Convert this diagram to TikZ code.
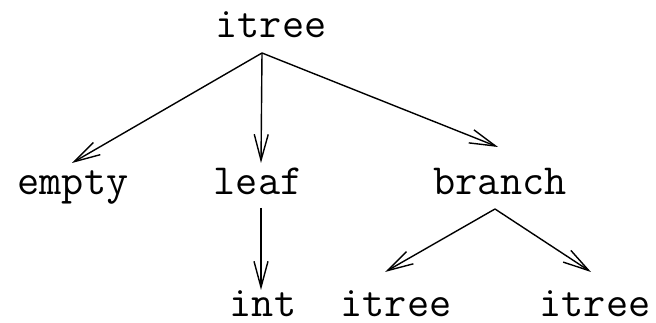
\documentclass[tikz,border=0pt]{standalone}
\usepackage{fontspec}
\usetikzlibrary{arrows.meta}
\begin{document}
\begin{tikzpicture}[x=1pt,y=1pt,
    lbl/.style={font=\ttfamily\fontsize{43}{46}\selectfont,inner sep=0pt,anchor=base},
    >={Straight Barb[length=26pt,width=14pt]},line width=1.4pt]
    \useasboundingbox (0,0) rectangle (656,323);

    \node[lbl] (r) at (271,285) {itree};

    \node[lbl] (e1) at (73,128) {empty};
    \node[lbl] (l1) at (258,128) {leaf};
    \node[lbl] (b1) at (500,128) {branch};

    \node[lbl] (l2) at (263,6) {int};
    \node[lbl] (b2) at (396,6) {itree};
    \node[lbl] (b3) at (595,6) {itree};

    % arrows start a bit under the base line of the text
    \draw[->] ([shift={(-9,-15)}]r.base) to ([shift={(-1,32)}]e1.base);
    \draw[->] ([shift={(-9,-15)}]r.base) to ([shift={(3,32)}]l1.base);
    \draw[->] ([shift={(-9,-15)}]r.base) to ([shift={(-2,48)}]b1.base);

    \draw[->] ([shift={(3,-13)}]l1.base) to ([shift={(-2,27)}]l2.base);

    \draw[->] ([shift={(-5,-14)}]b1.base) to ([shift={(-11,45)}]b2.base);
    \draw[->] ([shift={(-5,-14)}]b1.base) to ([shift={(-4,45)}]b3.base);

\end{tikzpicture}
\end{document}
